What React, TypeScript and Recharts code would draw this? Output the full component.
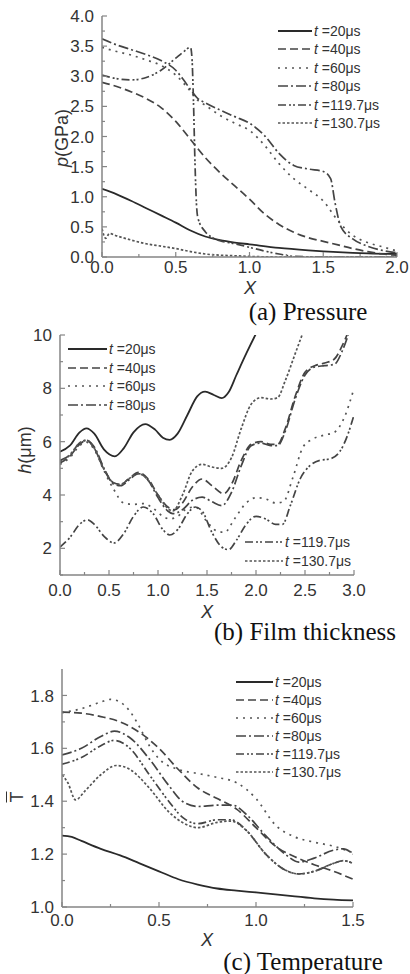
import { LineChart, Line, XAxis, YAxis } from 'recharts'

type Pt = [number, number]

// (a) pressure p (GPa) against X
const pres20: Pt[] = [[0, 1.13], [0.1, 1.04], [0.2, 0.93], [0.3, 0.81], [0.4, 0.69], [0.5, 0.57], [0.6, 0.44], [0.7, 0.34], [0.8, 0.28], [0.9, 0.24], [1.0, 0.21], [1.2, 0.15], [1.4, 0.11], [1.6, 0.08], [1.8, 0.06], [2.0, 0.05]]
const pres40: Pt[] = [[0, 2.9], [0.1, 2.83], [0.2, 2.74], [0.3, 2.63], [0.4, 2.48], [0.5, 2.25], [0.6, 1.95], [0.7, 1.65], [0.8, 1.4], [0.9, 1.18], [1.0, 0.96], [1.1, 0.72], [1.2, 0.54], [1.3, 0.41], [1.4, 0.32], [1.5, 0.26], [1.6, 0.2], [1.7, 0.14], [1.8, 0.09], [1.9, 0.05], [2.0, 0.03]]
const pres60: Pt[] = [[0, 3.48], [0.1, 3.41], [0.2, 3.35], [0.3, 3.27], [0.4, 3.18], [0.5, 3.02], [0.6, 2.75], [0.65, 2.6], [0.7, 2.52], [0.8, 2.35], [0.9, 2.22], [1.0, 2.1], [1.1, 1.86], [1.2, 1.55], [1.3, 1.3], [1.4, 1.12], [1.5, 0.93], [1.6, 0.6], [1.7, 0.36], [1.8, 0.24], [1.9, 0.17], [2.0, 0.1]]
const pres80: Pt[] = [[0, 3.62], [0.1, 3.52], [0.2, 3.44], [0.3, 3.36], [0.4, 3.26], [0.5, 3.1], [0.55, 2.95], [0.6, 2.78], [0.65, 2.63], [0.7, 2.56], [0.8, 2.44], [0.9, 2.33], [1.0, 2.22], [1.1, 2.02], [1.2, 1.72], [1.3, 1.52], [1.4, 1.46], [1.5, 1.42], [1.55, 1.3], [1.58, 0.9], [1.62, 0.5], [1.7, 0.3], [1.8, 0.18], [1.9, 0.11], [2.0, 0.07]]
const pres119: Pt[] = [[0, 3.02], [0.1, 2.96], [0.2, 2.94], [0.3, 2.98], [0.4, 3.1], [0.5, 3.3], [0.55, 3.4], [0.6, 3.48], [0.61, 3.3], [0.62, 2.6], [0.63, 1.6], [0.64, 0.9], [0.65, 0.65], [0.7, 0.42], [0.75, 0.32], [0.8, 0.27], [0.9, 0.22], [1.0, 0.16], [1.1, 0.1], [1.2, 0.05], [1.3, 0.01], [1.5, 0], [2.0, 0]]
const pres130: Pt[] = [[0, 0.47], [0.025, 0.31], [0.05, 0.39], [0.1, 0.35], [0.2, 0.28], [0.3, 0.22], [0.4, 0.18], [0.5, 0.14], [0.6, 0.09], [0.7, 0.05], [0.8, 0.03], [0.9, 0.02], [1.0, 0.01], [1.2, 0], [2.0, 0]]

// (b) film thickness h (um) against X
const film20: Pt[] = [[0, 5.62], [0.1, 5.85], [0.2, 6.35], [0.27, 6.5], [0.35, 6.3], [0.45, 5.7], [0.56, 5.45], [0.65, 5.75], [0.75, 6.35], [0.87, 6.66], [0.97, 6.45], [1.05, 6.15], [1.12, 6.07], [1.2, 6.3], [1.3, 7.0], [1.4, 7.7], [1.48, 7.88], [1.57, 7.75], [1.65, 7.63], [1.72, 7.85], [1.8, 8.5], [1.9, 9.3], [2.0, 10.05], [2.05, 10.4]]
const film40: Pt[] = [[0, 5.2], [0.1, 5.45], [0.2, 5.9], [0.27, 6.05], [0.35, 5.75], [0.45, 4.95], [0.55, 4.45], [0.62, 4.4], [0.7, 4.6], [0.8, 4.85], [0.9, 4.6], [1.0, 4.0], [1.1, 3.55], [1.17, 3.45], [1.25, 3.7], [1.35, 4.3], [1.45, 4.6], [1.55, 4.35], [1.67, 4.05], [1.75, 4.4], [1.85, 5.3], [1.95, 5.9], [2.05, 6.0], [2.15, 5.9], [2.22, 5.9], [2.3, 6.5], [2.4, 7.7], [2.5, 8.6], [2.6, 8.85], [2.7, 8.95], [2.8, 9.1], [2.88, 9.6], [2.95, 10.2]]
const film60: Pt[] = [[0, 5.15], [0.1, 5.4], [0.2, 5.85], [0.27, 5.98], [0.35, 5.7], [0.45, 4.9], [0.55, 4.2], [0.65, 3.7], [0.75, 3.65], [0.85, 3.68], [0.95, 3.5], [1.05, 3.2], [1.12, 3.1], [1.2, 3.2], [1.3, 3.5], [1.38, 3.55], [1.5, 3.0], [1.6, 2.65], [1.68, 2.6], [1.78, 3.1], [1.9, 3.7], [2.0, 3.9], [2.1, 3.85], [2.2, 3.7], [2.28, 3.75], [2.38, 4.7], [2.48, 5.8], [2.58, 6.1], [2.7, 6.25], [2.8, 6.35], [2.9, 6.9], [3.0, 8.0]]
const film80: Pt[] = [[0, 5.3], [0.1, 5.5], [0.2, 5.95], [0.27, 6.05], [0.35, 5.8], [0.45, 5.0], [0.55, 4.4], [0.62, 4.35], [0.7, 4.55], [0.8, 4.8], [0.9, 4.55], [1.0, 3.9], [1.1, 3.4], [1.15, 3.3], [1.25, 3.45], [1.35, 3.8], [1.45, 3.92], [1.55, 3.75], [1.65, 3.6], [1.75, 4.1], [1.85, 5.1], [1.95, 5.85], [2.05, 5.95], [2.15, 5.85], [2.22, 5.85], [2.3, 6.4], [2.4, 7.6], [2.5, 8.5], [2.6, 8.8], [2.7, 8.85], [2.8, 8.9], [2.88, 9.4], [2.95, 10.1]]
const film119: Pt[] = [[0, 2.05], [0.1, 2.4], [0.2, 2.9], [0.28, 3.07], [0.35, 2.9], [0.45, 2.45], [0.55, 2.2], [0.65, 2.55], [0.75, 3.2], [0.85, 3.55], [0.95, 3.3], [1.05, 2.7], [1.12, 2.5], [1.2, 2.7], [1.3, 3.3], [1.38, 3.55], [1.45, 3.4], [1.55, 2.6], [1.65, 2.05], [1.72, 1.95], [1.8, 2.3], [1.9, 2.9], [2.0, 3.2], [2.1, 3.1], [2.2, 2.9], [2.27, 2.9], [2.35, 3.6], [2.45, 4.6], [2.55, 5.1], [2.65, 5.3], [2.75, 5.35], [2.85, 5.6], [2.93, 6.2], [3.0, 7.0]]
const film130: Pt[] = [[0, 5.25], [0.1, 5.5], [0.2, 5.95], [0.27, 6.05], [0.35, 5.75], [0.45, 4.95], [0.55, 4.45], [0.62, 4.4], [0.7, 4.6], [0.8, 4.8], [0.9, 4.55], [1.0, 4.0], [1.1, 3.5], [1.15, 3.4], [1.25, 4.0], [1.35, 4.9], [1.45, 5.15], [1.55, 5.05], [1.65, 5.0], [1.75, 5.4], [1.85, 6.5], [1.95, 7.4], [2.05, 7.65], [2.15, 7.6], [2.22, 7.65], [2.3, 8.3], [2.4, 9.3], [2.48, 10.1]]

// (c) dimensionless temperature against X
const temp20: Pt[] = [[0, 1.27], [0.05, 1.265], [0.1, 1.25], [0.2, 1.22], [0.3, 1.195], [0.4, 1.165], [0.5, 1.135], [0.6, 1.105], [0.7, 1.085], [0.8, 1.07], [0.9, 1.062], [1.0, 1.055], [1.1, 1.048], [1.2, 1.04], [1.3, 1.033], [1.4, 1.028], [1.5, 1.025]]
const temp40: Pt[] = [[0, 1.737], [0.1, 1.733], [0.2, 1.72], [0.3, 1.7], [0.4, 1.66], [0.5, 1.6], [0.6, 1.52], [0.7, 1.45], [0.8, 1.41], [0.9, 1.37], [1.0, 1.3], [1.1, 1.23], [1.2, 1.19], [1.3, 1.16], [1.4, 1.135], [1.5, 1.105]]
const temp60: Pt[] = [[0, 1.735], [0.1, 1.75], [0.2, 1.775], [0.25, 1.785], [0.3, 1.775], [0.35, 1.74], [0.4, 1.68], [0.45, 1.61], [0.5, 1.56], [0.6, 1.52], [0.7, 1.505], [0.8, 1.49], [0.9, 1.47], [1.0, 1.41], [1.1, 1.31], [1.2, 1.265], [1.3, 1.245], [1.4, 1.23], [1.5, 1.205]]
const temp80: Pt[] = [[0, 1.575], [0.1, 1.6], [0.2, 1.645], [0.27, 1.665], [0.35, 1.64], [0.45, 1.56], [0.55, 1.46], [0.62, 1.4], [0.7, 1.38], [0.8, 1.385], [0.88, 1.385], [0.95, 1.35], [1.05, 1.27], [1.15, 1.2], [1.22, 1.17], [1.3, 1.185], [1.4, 1.215], [1.45, 1.22], [1.5, 1.2]]
const temp119: Pt[] = [[0, 1.54], [0.1, 1.565], [0.2, 1.61], [0.27, 1.63], [0.35, 1.6], [0.45, 1.5], [0.55, 1.4], [0.62, 1.34], [0.7, 1.315], [0.8, 1.33], [0.87, 1.33], [0.95, 1.29], [1.05, 1.2], [1.15, 1.14], [1.22, 1.125], [1.3, 1.135], [1.4, 1.165], [1.45, 1.175], [1.5, 1.165]]
const temp130: Pt[] = [[0, 1.5], [0.03, 1.47], [0.07, 1.405], [0.12, 1.44], [0.2, 1.5], [0.28, 1.535], [0.35, 1.52], [0.45, 1.45], [0.55, 1.36], [0.62, 1.32], [0.7, 1.3], [0.8, 1.32], [0.87, 1.325], [0.95, 1.29], [1.05, 1.2], [1.15, 1.14], [1.22, 1.125], [1.3, 1.135], [1.4, 1.165], [1.45, 1.175], [1.5, 1.165]]

// axis ticks (minor ones get no label)
const aXTicks = [0, 0.25, 0.5, 0.75, 1, 1.25, 1.5, 1.75, 2]
const aYTicks = [0, 0.25, 0.5, 0.75, 1, 1.25, 1.5, 1.75, 2, 2.25, 2.5, 2.75, 3, 3.25, 3.5, 3.75, 4]
const bXTicks = [0, 0.25, 0.5, 0.75, 1, 1.25, 1.5, 1.75, 2, 2.25, 2.5, 2.75, 3]
const bYTicks = [1, 2, 3, 4, 5, 6, 7, 8, 9, 10]
const cXTicks = [0, 0.25, 0.5, 0.75, 1, 1.25, 1.5]
const cYTicks = [1, 1.1, 1.2, 1.3, 1.4, 1.5, 1.6, 1.7, 1.8]

const times = ['20', '40', '60', '80', '119.7', '130.7']

const FONT = 'Arial, "Liberation Sans", sans-serif'
const SERIF = '"Times New Roman", "Liberation Serif", serif'
const INK = '#333'
const FRAME = '#858585'

const STYLES = [
  { dash: undefined, width: 1.8, color: '#2a2a2a' },
  { dash: '8 4', width: 1.7, color: '#444' },
  { dash: '2 5', width: 1.7, color: '#555' },
  { dash: '10 3 2 3', width: 1.7, color: '#444' },
  { dash: '8 3 2 2 2 3', width: 1.7, color: '#444' },
  { dash: '2.5 2', width: 1.7, color: '#555' },
]

const onStep = (v: number, step: number) => Math.abs(v / step - Math.round(v / step)) < 1e-6

function XTick(props: any) {
  const { x, y, payload, step, gap, fmt } = props
  const major = onStep(payload.value, step)
  return (
    <g>
      <line x1={x} x2={x} y1={y} y2={y - (major ? 5 : 3)} stroke={FRAME} strokeWidth={1.2} />
      {major && (
        <text x={x} y={y + gap} dy="0.71em" textAnchor="middle" fontSize={17} fontFamily={FONT} fill={INK}>
          {fmt(payload.value)}
        </text>
      )}
    </g>
  )
}

function YTick(props: any) {
  const { x, y, payload, step, gap, fmt } = props
  const major = onStep(payload.value, step)
  return (
    <g>
      <line x1={x} x2={x + (major ? 5 : 3)} y1={y} y2={y} stroke={FRAME} strokeWidth={1.2} />
      {major && (
        <text x={x - gap} y={y} dy="0.36em" textAnchor="end" fontSize={17} fontFamily={FONT} fill={INK}>
          {fmt(payload.value)}
        </text>
      )}
    </g>
  )
}

const f1 = (v: number) => v.toFixed(1)
const f0 = (v: number) => v.toFixed(0)
const toPts = (a: Pt[]) => a.map(([x, y]) => ({ x, y }))

interface PanelProps {
  top: number
  height: number
  mTop: number
  mRight: number
  yWidth: number
  xHeight: number
  xDomain: [number, number]
  yDomain: [number, number]
  xTicks: number[]
  yTicks: number[]
  xStep: number
  yStep: number
  yFmt: (v: number) => string
  xGap: number
  series: Pt[][]
}

function Panel(p: PanelProps) {
  const frame = { stroke: FRAME, strokeWidth: 1.5 }
  return (
    <div style={{ position: 'absolute', left: 0, top: p.top }}>
      <LineChart width={410} height={p.height} margin={{ top: p.mTop, right: p.mRight, left: 0, bottom: 0 }}>
        <XAxis
          type="number" dataKey="x" domain={p.xDomain} ticks={p.xTicks} interval={0}
          allowDataOverflow height={p.xHeight} axisLine={frame} tickLine={false}
          tickSize={0} tickMargin={0}
          tick={<XTick step={p.xStep} gap={p.xGap} fmt={f1} />}
        />
        <YAxis
          type="number" dataKey="y" domain={p.yDomain} ticks={p.yTicks} interval={0}
          allowDataOverflow width={p.yWidth} axisLine={frame} tickLine={false}
          tickSize={0} tickMargin={0}
          tick={<YTick step={p.yStep} gap={8} fmt={p.yFmt} />}
        />
        <XAxis xAxisId="top" orientation="top" type="number" domain={p.xDomain} allowDataOverflow
          height={0} tick={false} tickLine={false} axisLine={frame} />
        <YAxis yAxisId="right" orientation="right" type="number" domain={p.yDomain} allowDataOverflow
          width={0} tick={false} tickLine={false} axisLine={frame} />
        {p.series.map((s, i) => (
          <Line
            key={i}
            data={toPts(s)}
            dataKey="y"
            type="monotone"
            stroke={STYLES[i].color}
            strokeWidth={STYLES[i].width}
            strokeDasharray={STYLES[i].dash}
            dot={false}
            activeDot={false}
            isAnimationActive={false}
          />
        ))}
      </LineChart>
    </div>
  )
}

function LegendRows({ x, y, step, lineW, rows }: { x: number; y: number; step: number; lineW: number; rows: number[] }) {
  return (
    <>
      {rows.map((r, i) => (
        <div key={r} style={{
          position: 'absolute', left: x, top: y + i * step - 9, height: 18,
          display: 'flex', alignItems: 'center', fontFamily: FONT, fontSize: 14, color: INK, whiteSpace: 'nowrap',
        }}>
          <svg width={lineW} height={4}>
            <line x1={0} x2={lineW} y1={2} y2={2} stroke={STYLES[r].color}
              strokeWidth={STYLES[r].width} strokeDasharray={STYLES[r].dash} />
          </svg>
          <span style={{ marginLeft: 2 }}><i>t</i> =<span>{times[r]}μs</span></span>
        </div>
      ))}
    </>
  )
}

const abs = (left: number, top: number, extra: any = {}) =>
  ({ position: 'absolute' as const, left, top, transform: 'translate(-50%, -50%)', whiteSpace: 'nowrap' as const, ...extra })

export default function App() {
  const axisTitle = { fontFamily: FONT, fontSize: 18, color: INK, lineHeight: 1 }
  const caption = { fontFamily: SERIF, fontSize: 25, color: '#111' }
  return (
    <div style={{ position: 'absolute', left: 0, top: 0, width: 410, height: 974, background: '#fff', overflow: 'hidden' }}>
      <Panel top={0} height={300} mTop={16} mRight={13} yWidth={102} xHeight={43}
        xDomain={[0, 2]} yDomain={[0, 4]} xTicks={aXTicks} yTicks={aYTicks}
        xStep={0.5} yStep={0.5} yFmt={f1} xGap={4}
        series={[pres20, pres40, pres60, pres80, pres119, pres130]} />
      <Panel top={320} height={300} mTop={15} mRight={56} yWidth={60} xHeight={45}
        xDomain={[0, 3]} yDomain={[1, 10]} xTicks={bXTicks} yTicks={bYTicks}
        xStep={0.5} yStep={2} yFmt={f0} xGap={9}
        series={[film20, film40, film60, film80, film119, film130]} />
      <Panel top={650} height={300} mTop={19} mRight={57} yWidth={62} xHeight={43}
        xDomain={[0, 1.5]} yDomain={[1, 1.9]} xTicks={cXTicks} yTicks={cYTicks}
        xStep={0.5} yStep={0.2} yFmt={f1} xGap={7}
        series={[temp20, temp40, temp60, temp80, temp119, temp130]} />

      {/* axis titles */}
      <div style={abs(62, 138, { ...axisTitle, transform: 'translate(-50%, -50%) rotate(-90deg)' })}><i>p</i>(GPa)</div>
      <div style={abs(250, 288, { ...axisTitle, fontStyle: 'italic' })}>X</div>
      <div style={abs(25, 450, { ...axisTitle, transform: 'translate(-50%, -50%) rotate(-90deg)' })}><i>h</i>(μm)</div>
      <div style={abs(207, 612, { ...axisTitle, fontStyle: 'italic' })}>X</div>
      <div style={abs(17, 797, { ...axisTitle, textDecoration: 'overline', transform: 'translate(-50%, -50%) rotate(-90deg)' })}>T</div>
      <div style={abs(207, 940, { ...axisTitle, fontStyle: 'italic' })}>X</div>

      {/* captions */}
      <div style={abs(308, 312, caption)}>(a) Pressure</div>
      <div style={abs(305, 632, caption)}>(b) Film thickness</div>
      <div style={abs(303, 962, caption)}>(c) Temperature</div>

      {/* legends */}
      <LegendRows x={278} y={31} step={18.4} lineW={34} rows={[0, 1, 2, 3, 4, 5]} />
      <LegendRows x={68} y={349} step={18.7} lineW={39} rows={[0, 1, 2, 3]} />
      <LegendRows x={245} y={542} step={19} lineW={38} rows={[4, 5]} />
      <LegendRows x={236} y={682} step={18} lineW={37} rows={[0, 1, 2, 3, 4, 5]} />
    </div>
  )
}
